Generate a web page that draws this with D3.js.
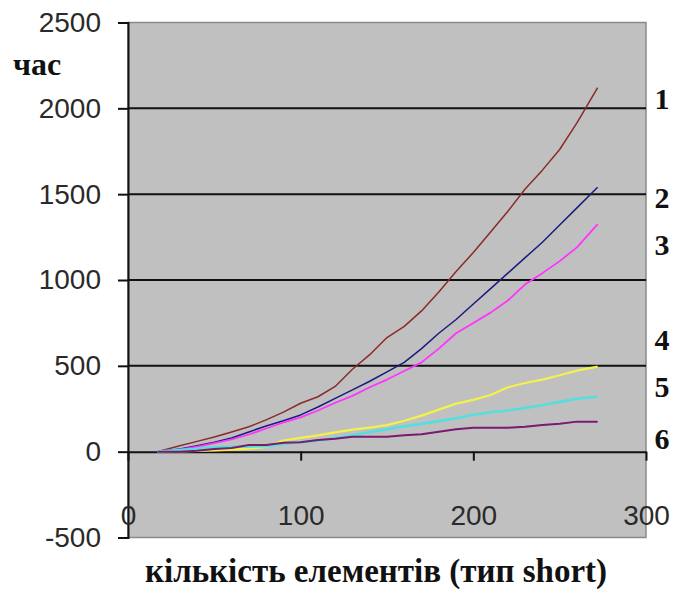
<!DOCTYPE html>
<html>
<head>
<meta charset="utf-8">
<script src="https://cdn.jsdelivr.net/npm/d3@7"></script>
<style>
  html, body { margin: 0; padding: 0; background: #ffffff; }
  svg { display: block; }
</style>
</head>
<body>
<svg id="chart" width="676" height="589"></svg>
<script>
// ---- data ----
const xValues = [17, 30, 40, 50, 60, 70, 80, 90, 100, 110, 120, 130, 140, 150, 160, 170, 180, 190, 200, 210, 220, 230, 240, 250, 260, 272];
const series1 = [0, 35, 60, 85, 115, 145, 185, 230, 282, 320, 380, 480, 565, 665, 730, 820, 930, 1050, 1160, 1280, 1400, 1530, 1640, 1760, 1915, 2120];
const series2 = [0, 15, 35, 55, 80, 115, 150, 180, 214, 260, 310, 360, 410, 465, 520, 600, 690, 770, 860, 950, 1040, 1130, 1220, 1320, 1420, 1540];
const series3 = [0, 12, 30, 50, 72, 100, 135, 170, 200, 240, 285, 325, 375, 420, 470, 520, 600, 690, 750, 810, 880, 975, 1040, 1110, 1190, 1325];
const series4 = [0, 2, 5, 8, 12, 18, 28, 65, 80, 95, 112, 128, 140, 155, 180, 210, 245, 280, 302, 330, 375, 400, 420, 445, 472, 495];
const series5 = [0, 10, 17, 25, 29, 30, 32, 45, 55, 65, 80, 95, 115, 130, 148, 162, 178, 195, 215, 230, 240, 255, 270, 290, 308, 320];
const series6 = [0, 0, 5, 15, 22, 39, 39, 52, 55, 68, 75, 87, 87, 87, 95, 101, 116, 130, 140, 140, 140, 145, 155, 163, 175, 175];
const seriesList = [series1, series2, series3, series4, series5, series6];
const seriesColors = ["#8b2a2a", "#1a1a80", "#ff33ff", "#f2f24a", "#55dede", "#7a1a70"];
const seriesWidths = [1.5, 1.5, 1.8, 2.2, 2.6, 2];
const yTicks = [-500, 0, 500, 1000, 1500, 2000, 2500];
const xTicks = [0, 100, 200, 300];
const gridValues = [500, 1000, 1500, 2000];
const curveLabels = ["1", "2", "3", "4", "5", "6"];
const curveLabelValues = [2055, 1483, 1208, 654, 380, 76];
const yTitle = "час";
const xTitle = "кількість елементів (тип short)";

// ---- layout ----
const svg = d3.select("#chart");
const pLeft = 128, pRight = 646, pTop = 22.5, pBottom = 537.5;
const x = d3.scaleLinear().domain([0, 300]).range([pLeft, pRight]);
const y = d3.scaleLinear().domain([-500, 2500]).range([pBottom, pTop]);

// plot background
svg.append("rect")
  .attr("x", pLeft).attr("y", pTop)
  .attr("width", pRight - pLeft).attr("height", pBottom - pTop)
  .attr("fill", "#c0c0c0").attr("stroke", "#8a8a8a").attr("stroke-width", 1.5);

// gridlines
svg.append("g").selectAll("line").data(gridValues).join("line")
  .attr("x1", pLeft).attr("x2", pRight)
  .attr("y1", d => y(d)).attr("y2", d => y(d))
  .attr("stroke", "#111").attr("stroke-width", 2);

// y axis
const yAxis = d3.axisLeft(y).tickValues(yTicks).tickSize(10).tickPadding(17).tickFormat(d => String(d));
const gy = svg.append("g").attr("transform", `translate(${pLeft},0)`).call(yAxis);
gy.select(".domain").attr("stroke", "#111").attr("stroke-width", 2);
gy.selectAll(".tick line").attr("stroke", "#111").attr("stroke-width", 2);
gy.selectAll(".tick text")
  .attr("font-family", "'Liberation Sans', Arial, sans-serif")
  .attr("font-size", 28).attr("fill", "#2a2a2a");

// x axis at y=0
const xAxis = d3.axisBottom(x).tickValues(xTicks).tickSize(9).tickPadding(44).tickSizeOuter(0).tickFormat(d => String(d));
const gx = svg.append("g").attr("transform", `translate(0,${y(0)})`).call(xAxis);
gx.select(".domain").attr("stroke", "#111").attr("stroke-width", 2);
gx.selectAll(".tick line").attr("stroke", "#111").attr("stroke-width", 2);
gx.selectAll(".tick text")
  .attr("font-family", "'Liberation Sans', Arial, sans-serif")
  .attr("font-size", 28).attr("fill", "#2a2a2a");

// lines
const line = d3.line().x((d, i) => x(xValues[i])).y(d => y(d));
svg.append("g").selectAll("path").data(seriesList).join("path")
  .attr("d", d => line(d))
  .attr("fill", "none")
  .attr("stroke", (d, i) => seriesColors[i])
  .attr("stroke-width", (d, i) => seriesWidths[i])
  .attr("stroke-linejoin", "round");

// curve labels
svg.append("g").selectAll("text").data(curveLabels).join("text")
  .attr("x", 662).attr("y", (d, i) => y(curveLabelValues[i]))
  .attr("dy", "0.35em")
  .attr("text-anchor", "middle")
  .attr("font-family", "'Liberation Serif', 'Times New Roman', serif")
  .attr("font-weight", "bold").attr("font-size", 30).attr("fill", "#111")
  .text(d => d);

// titles
svg.append("text").attr("x", 13).attr("y", 75)
  .attr("font-family", "'Liberation Serif', 'Times New Roman', serif")
  .attr("font-weight", "bold").attr("font-size", 32).attr("fill", "#111")
  .text(yTitle);

svg.append("text").attr("x", 376).attr("y", 582)
  .attr("text-anchor", "middle")
  .attr("font-family", "'Liberation Serif', 'Times New Roman', serif")
  .attr("font-weight", "bold").attr("font-size", 33).attr("fill", "#111")
  .text(xTitle);
</script>
</body>
</html>
